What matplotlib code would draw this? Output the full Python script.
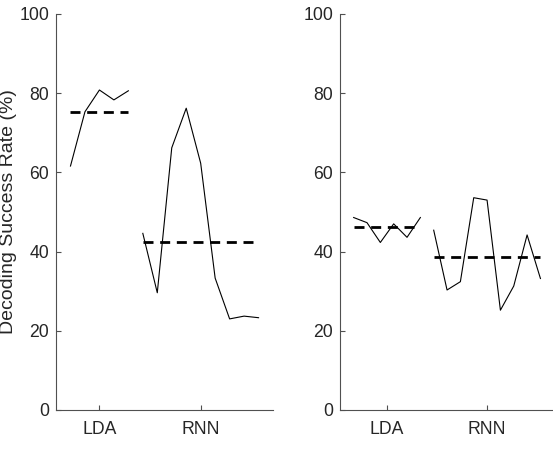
import matplotlib
matplotlib.use("Agg")
import matplotlib.pyplot as plt
import numpy as np

plt.rcParams['font.family'] = ['Liberation Sans', 'DejaVu Sans']
plt.rcParams['lines.scale_dashes'] = False

categories = ["LDA", "RNN"]

# Left panel
left_lda = [61.6, 75.3, 80.8, 78.3, 80.6]
left_rnn = [44.6, 29.6, 66.2, 76.2, 62.3, 33.3, 23.0, 23.7, 23.3]
# Right panel
right_lda = [48.6, 47.3, 42.3, 47.0, 43.6, 48.6]
right_rnn = [45.4, 30.3, 32.4, 53.6, 53.0, 25.2, 31.3, 44.2, 33.2]

yticks = [0, 20, 40, 60, 80, 100]
ylabel = "Decoding Success Rate (%)"

fig = plt.figure(figsize=(5.53, 4.49), dpi=100)
ax1 = fig.add_axes([0.1013, 0.0869, 0.3924, 0.882])
ax2 = fig.add_axes([0.6154, 0.0869, 0.386, 0.882])

tick_color = '#262626'
spine_color = '#505050'

def draw(ax, lda, rnn):
    n1, n2 = len(lda), len(rnn)
    x_lda = np.arange(1, n1 + 1)
    x_rnn = np.arange(n1 + 1, n1 + n2 + 1)
    ax.plot(x_lda, lda, color='black', lw=0.8)
    ax.plot(x_rnn, rnn, color='black', lw=0.8)
    m1, m2 = np.mean(lda), np.mean(rnn)
    ax.plot([x_lda[0], x_lda[-1]], [m1, m1], color='black', lw=2.0,
            linestyle='--', dashes=[7.2, 4.8])
    ax.plot([x_rnn[0], x_rnn[-1]], [m2, m2], color='black', lw=2.0,
            linestyle='--', dashes=[7.2, 4.8])
    ax.set_xlim(0, n1 + n2 + 1)
    ax.set_ylim(0, 100)
    ax.set_yticks(yticks)
    ax.set_xticks([x_lda.mean(), x_rnn.mean()])
    ax.set_xticklabels(categories)
    for s in ['top', 'right']:
        ax.spines[s].set_visible(False)
    for s in ['left', 'bottom']:
        ax.spines[s].set_color(spine_color)
        ax.spines[s].set_linewidth(0.8)
    ax.tick_params(axis='both', direction='in', length=3.5, width=0.8,
                   color=spine_color, labelcolor=tick_color, labelsize=12.7)
    ax.tick_params(axis='x', pad=8)
    ax.tick_params(axis='y', pad=5)

draw(ax1, left_lda, left_rnn)
draw(ax2, right_lda, right_rnn)

ax1.set_ylabel(ylabel, fontsize=14, color=tick_color)
ax1.yaxis.set_label_coords(-0.18, 0.5)

fig.savefig("out.png", dpi=100)
